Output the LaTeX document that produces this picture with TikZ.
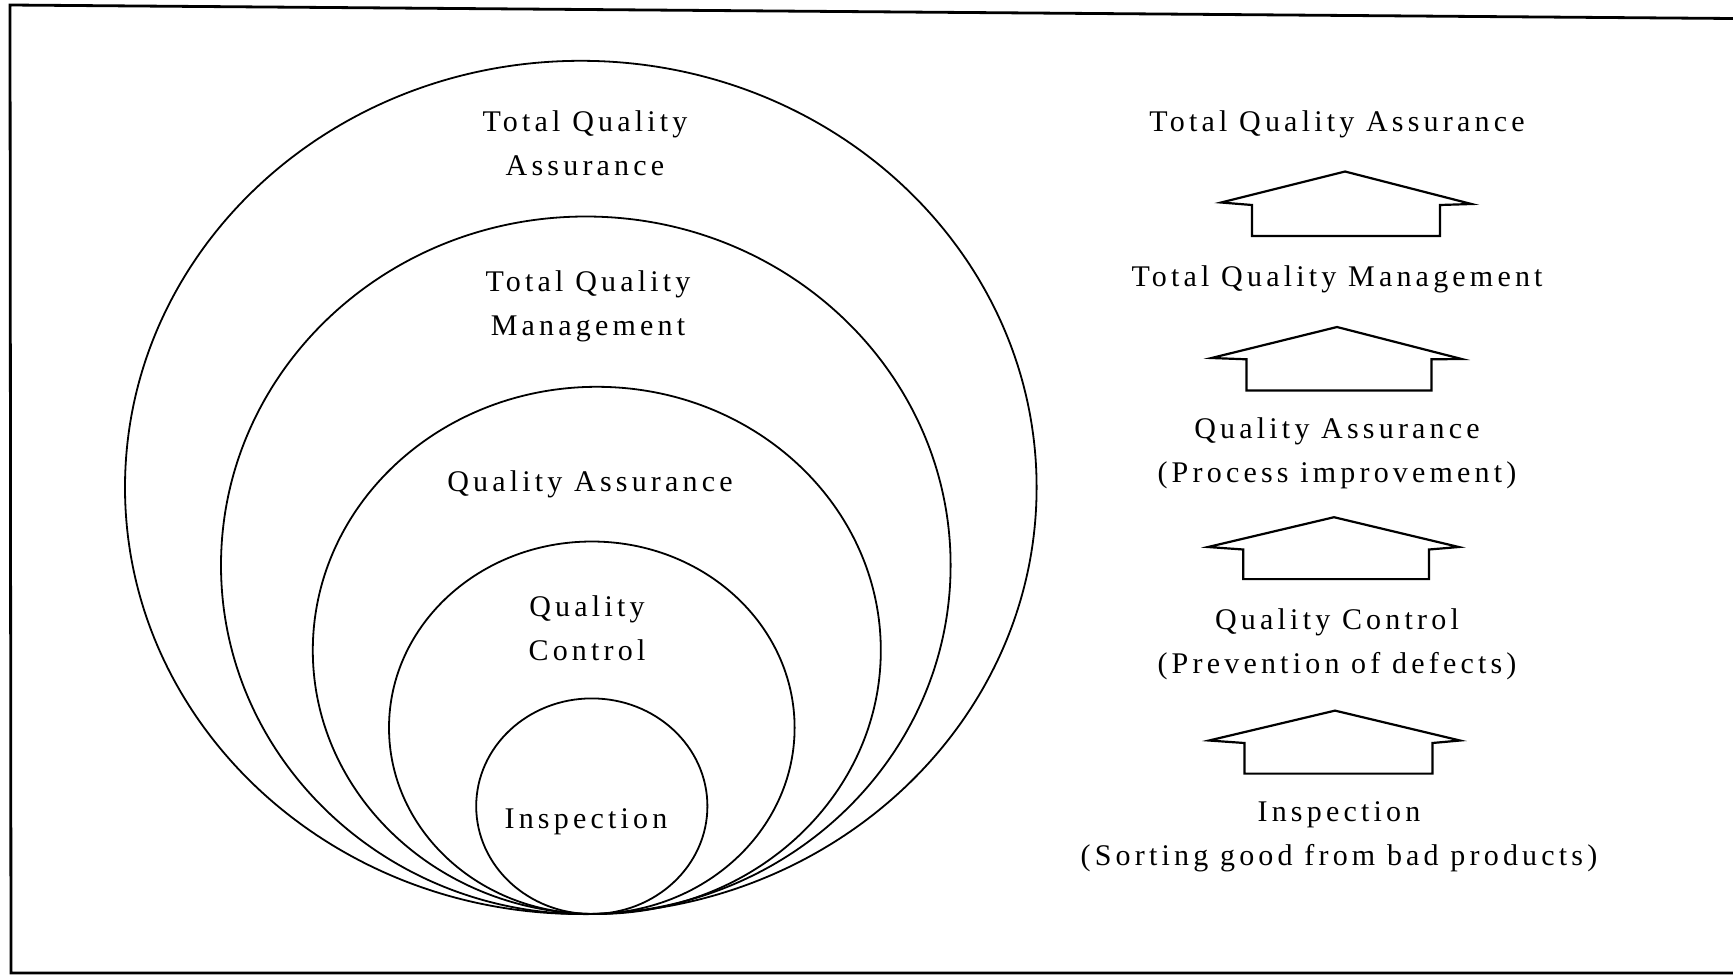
\documentclass[tikz,border=0pt]{standalone}
\usepackage{fontspec}
\setmainfont{Liberation Serif}[LetterSpace=14]
\begin{document}
\begin{tikzpicture}[x=0.5pt,y=-0.5pt,
  lbl/.style={align=center,inner sep=0pt,font=\fontsize{15}{22}\selectfont},
  ring/.style={line width=0.9pt},
  house/.style={line width=1.1pt,line join=miter},
  frame/.style={line width=1.4pt}]
\useasboundingbox (0,0) rectangle (1733,975);
\fill[white] (0,0) rectangle (1733,975);
% frame
\coordinate (f1) at (10,5);
\coordinate (f2) at (1733,18.5);
\coordinate (f3) at (11,973);
\coordinate (f4) at (1733,973);
\draw[frame] (f2) -- (f1) -- (f3) -- (f4);
% nested ellipses, all touching at the bottom
\draw[ring] (580.8,487.4) ellipse [x radius=227.9pt, y radius=213.3pt];
\draw[ring] (585.8,565.3) ellipse [x radius=182.4pt, y radius=174.4pt];
\draw[ring] (596.8,650.4) ellipse [x radius=142pt, y radius=131.8pt];
\draw[ring] (591.8,727.7) ellipse [x radius=101.4pt, y radius=93.1pt];
\draw[ring] (591.8,806.2) ellipse [x radius=57.8pt, y radius=53.9pt];
% labels in ellipses
\node[lbl] (c1) at (585,143) {Total Quality\\Assurance};
\node[lbl] (c2) at (588,306) {Total Quality\\Management};
\node[lbl] (c3) at (590,484.5) {Quality Assurance};
\node[lbl] (c4) at (587,628) {Quality\\Control};
\node[lbl] (c5) at (586,822) {Inspection};
% right column
\node[lbl] (r1) at (1337,124.5) {Total Quality Assurance};
\node[lbl] (r2) at (1337,279.5) {Total Quality Management};
\node[lbl] (r3) at (1337,453) {Quality Assurance\\(Process improvement)};
\node[lbl] (r4) at (1337,644) {Quality Control\\(Prevention of defects)};
\node[lbl] (r5) at (1339,837) {Inspection\\(Sorting good from bad products)};
% up-arrow houses
\draw[house] (1345,171.5) -- (1221,202.5) -- (1252,205) -- (1252,236) -- (1440,236) -- (1440,205) -- (1471.5,204) -- cycle;
\draw[house] (1337,327) -- (1211.5,358) -- (1246.5,359.3) -- (1246.5,390.5) -- (1431.5,390.5) -- (1431.5,359.3) -- (1461.7,359) -- cycle;
\draw[house] (1334,517.2) -- (1208,547) -- (1243.3,549.5) -- (1243.3,579.1) -- (1429,579.1) -- (1429,549.5) -- (1458.8,547) -- cycle;
\draw[house] (1335,710.6) -- (1209,740.5) -- (1244.5,743) -- (1244.5,773.6) -- (1432.4,773.6) -- (1432.4,743) -- (1460,740.5) -- cycle;
\end{tikzpicture}
\end{document}
